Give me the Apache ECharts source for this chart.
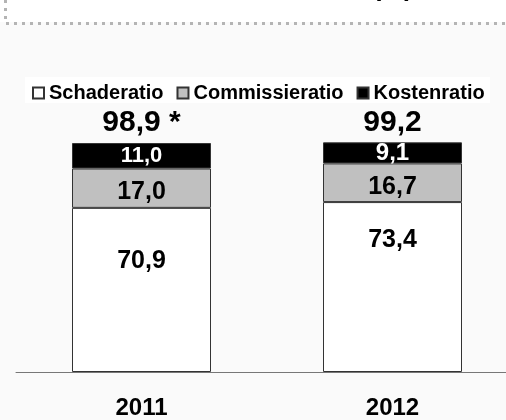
<!DOCTYPE html>
<html lang="nl">
<head>
<meta charset="UTF-8">
<title>Combined ratio (%)</title>
<script src="https://cdn.jsdelivr.net/npm/echarts@6/dist/echarts.min.js"></script>
<style>
    html, body { margin: 0; padding: 0; background: #fafafa; overflow: hidden; }
    /* a little wider than the window: the axis runs off the right edge */
    #main { width: 518px; height: 420px; }
</style>
</head>
<body>
<div id="main"></div>
<script>
var years = ['2011', '2012'];
var schade = [70.9, 73.4];
var commissie = [17.0, 16.7];
var kosten = [11.0, 9.1];
var totals = [98.9, 99.2];
var totalNotes = [' *', ''];

// label tweaks per bar (the reference does not centre every label)
var schadeDist = [41, 26];
var kostenFont = [22, 24];

var font = 'Arial, "Liberation Sans", sans-serif';

function nl(v) {
    return v.toFixed(1).replace('.', ',');
}

var myChart = echarts.init(document.getElementById('main'));

var segLabel = {
    show: true,
    fontFamily: font,
    fontWeight: 'bold',
    fontSize: 25,
    color: '#000',
    formatter: function (p) { return nl(p.value); }
};
var border = { borderColor: '#333', borderWidth: 1 };

var option = {
    backgroundColor: '#fafafa',
    animation: false,
    textStyle: { fontFamily: font },
    graphic: [
        { type: 'rect', z: -10, shape: { x: 0, y: 0, width: 518, height: 22 }, style: { fill: '#fff' } },
        { type: 'rect', z: -10, shape: { x: 25, y: 77, width: 465, height: 26 }, style: { fill: '#fff' } },
        {
            type: 'polyline', z: -5,
            shape: { points: [[5.5, 0], [5.5, 23.5], [518, 23.5]] },
            style: { fill: null, stroke: '#b4b4b4', lineWidth: 3, lineDash: [3, 5] }
        },
        {
            // only the bottom of the cut-off title shows
            type: 'text', z: -5, x: 413, y: 2,
            style: { text: '(%)', fill: '#000', font: 'bold 26px ' + font, textAlign: 'right', textVerticalAlign: 'bottom' }
        }
    ],
    legend: {
        data: ['Schaderatio', 'Commissieratio', 'Kostenratio'],
        left: 32,
        top: 83,
        padding: 0,
        icon: 'rect',
        itemWidth: 11,
        itemHeight: 11,
        itemGap: 13,
        textStyle: { fontFamily: font, fontWeight: 'bold', fontSize: 20, color: '#000' }
    },
    grid: { left: 16, right: 0, top: 140.5, bottom: 45 },
    xAxis: {
        type: 'category',
        data: years,
        axisLine: { lineStyle: { color: '#777', width: 1 } },
        axisTick: { show: false },
        axisLabel: { margin: 24, fontFamily: font, fontWeight: 'bold', fontSize: 24, color: '#000' }
    },
    yAxis: { type: 'value', min: 0, max: 100, show: false },
    series: [
        {
            name: 'Schaderatio', type: 'bar', stack: 'ratio', barWidth: 139,
            itemStyle: Object.assign({ color: '#fff' }, border),
            label: Object.assign({ position: 'insideTop' }, segLabel),
            data: schade.map(function (v, i) {
                return { value: v, label: { distance: schadeDist[i] } };
            })
        },
        {
            name: 'Commissieratio', type: 'bar', stack: 'ratio', barWidth: 139,
            itemStyle: Object.assign({ color: '#c0c0c0' }, border),
            label: Object.assign({ position: 'inside', offset: [0, 4] }, segLabel),
            data: commissie
        },
        {
            name: 'Kostenratio', type: 'bar', stack: 'ratio', barWidth: 139,
            itemStyle: Object.assign({ color: '#000' }, border),
            label: Object.assign({}, segLabel, { position: 'inside', color: '#fff' }),
            data: kosten.map(function (v, i) {
                return { value: v, label: { fontSize: kostenFont[i] } };
            })
        },
        {
            name: 'Totaal', type: 'scatter', silent: true,
            symbolSize: 0,
            itemStyle: { color: '#000', opacity: 1 },
            label: {
                show: true, position: 'top', distance: 5,
                fontFamily: font, fontWeight: 'bold', fontSize: 30, color: '#000',
                formatter: function (p) { return nl(p.value) + totalNotes[p.dataIndex]; }
            },
            data: totals
        }
    ]
};

myChart.setOption(option);
</script>
</body>
</html>
